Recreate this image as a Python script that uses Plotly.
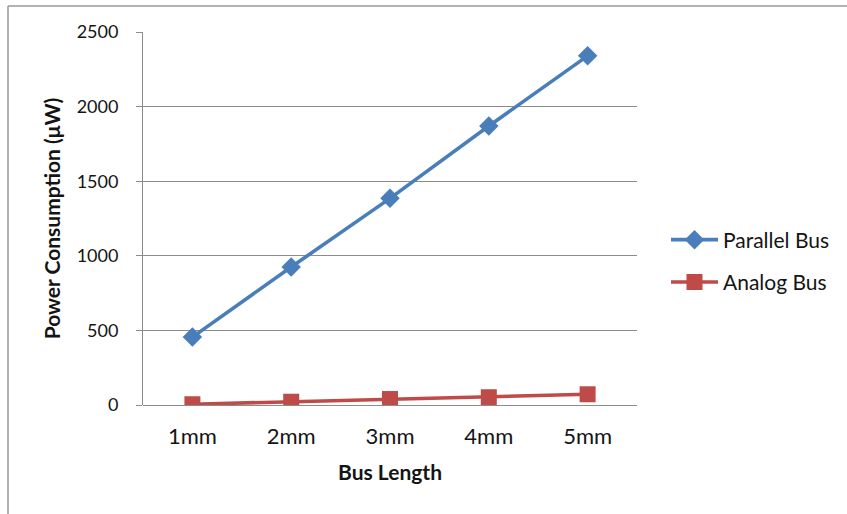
import plotly.graph_objects as go

categories = ["1mm", "2mm", "3mm", "4mm", "5mm"]
parallel_bus = [455, 925, 1385, 1870, 2340]
analog_bus = [5, 22, 40, 52, 72]
y_ticks = [0, 500, 1000, 1500, 2000, 2500]

W, H = 847, 514
ML, MR, MT, MB = 143, 210, 32, 109
PW, PH = W - ML - MR, H - MT - MB

FONT = "Lato, 'Open Sans', sans-serif"
GRID = "#8c8c8c"
TXT = "#141414"

fig = go.Figure()
fig.add_trace(go.Scatter(
    x=categories, y=parallel_bus, name="Parallel Bus", mode="lines+markers",
    line=dict(color="#4A7EBB", width=3.6),
    marker=dict(symbol="diamond", size=15, color="#4A7EBB"),
    legendgroup="a",
))
fig.add_trace(go.Scatter(
    x=categories, y=analog_bus, name="Analog Bus", mode="lines+markers",
    line=dict(color="#BE4B48", width=3.6),
    marker=dict(symbol="square", size=16, color="#BE4B48"),
    legendgroup="b",
))

# outer chart border (left and top edges visible)
bx = (8 - ML) / PW
by = (H - MB - 6) / PH
fig.add_shape(type="line", xref="paper", yref="paper", x0=bx, x1=bx, y0=by, y1=-1,
              line=dict(color="#9a9a9a", width=1.5))
fig.add_shape(type="line", xref="paper", yref="paper", x0=bx, x1=2, y0=by, y1=by,
              line=dict(color="#9a9a9a", width=1.5))

fig.update_layout(
    width=W, height=H,
    margin=dict(l=ML, r=MR, t=MT, b=MB),
    paper_bgcolor="white", plot_bgcolor="white",
    font=dict(family=FONT, size=18, color=TXT),
    showlegend=True,
    legend=dict(x=(666 - ML) / PW, y=(H - MB - 261) / PH, xanchor="left", yanchor="middle",
                font=dict(family=FONT, size=21, color=TXT),
                traceorder="grouped", tracegroupgap=12, itemwidth=47,
                bgcolor="rgba(0,0,0,0)"),
    xaxis=dict(
        type="category", range=[-0.5, 4.5],
        showgrid=False, showline=False, zeroline=False, ticks="",
        ticklabelstandoff=16,
        tickfont=dict(family=FONT, size=22, color=TXT),
        title=dict(text="<b>Bus Length</b>", font=dict(family=FONT, size=21, color=TXT), standoff=17),
    ),
    yaxis=dict(
        range=[0, 2500], tickvals=y_ticks,
        showgrid=True, gridcolor=GRID, gridwidth=1,
        showline=True, linecolor=GRID, linewidth=1,
        zeroline=True, zerolinecolor=GRID, zerolinewidth=1,
        ticks="outside", ticklen=6, tickcolor=GRID,
        ticklabelstandoff=14,
        tickfont=dict(family=FONT, size=18, color=TXT),
        title=dict(text="<b>Power Consumption (μW)</b>", font=dict(family=FONT, size=21, color=TXT), standoff=10),
    ),
)

fig.write_html("out.html", config={"displayModeBar": False},
               post_script="document.body.style.margin='0px';")
